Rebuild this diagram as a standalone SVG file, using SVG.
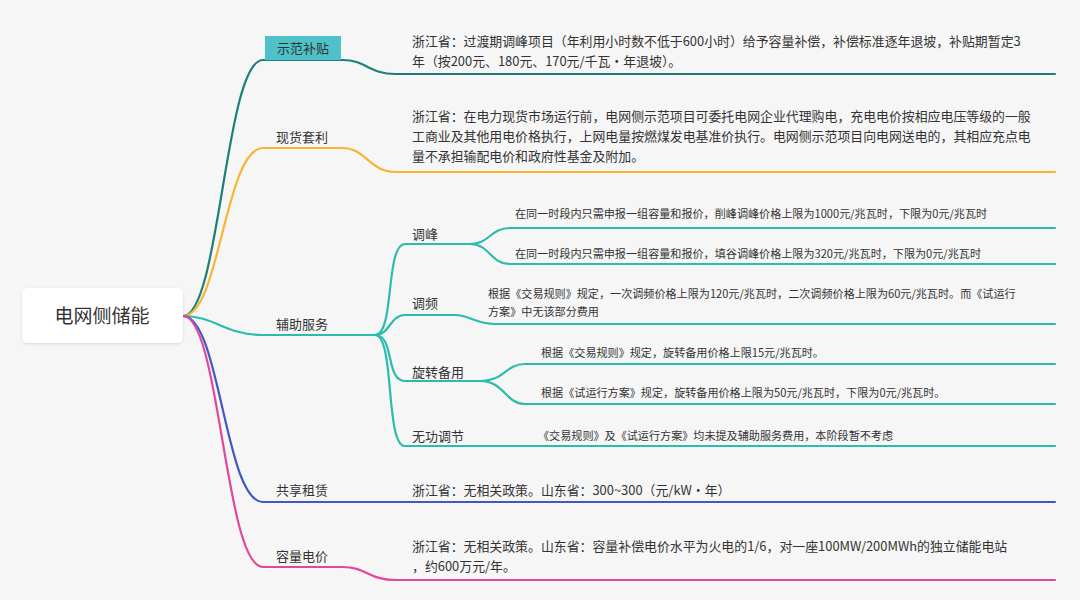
<svg xmlns="http://www.w3.org/2000/svg" width="1080" height="600" viewBox="0 0 1080 600">
<defs>
<filter id="sh" x="-10%" y="-20%" width="120%" height="140%"><feDropShadow dx="0" dy="1" stdDeviation="1.5" flood-color="#000" flood-opacity="0.12"/></filter>
</defs>
<style>
text{font-family:"Noto Sans CJK SC","Liberation Sans",sans-serif;fill:#333}
.l1{font-size:13px}
.d1{font-size:12.9px}
.d2{font-size:11.1px}
.c{fill:none;stroke-width:2.2;stroke-linecap:round}
.a{stroke:#1e7f7a}.b{stroke:#f7b531}.t{stroke:#2bbcad}.u{stroke:#4357c4}.p{stroke:#e3479b}
</style>
<rect width="1080" height="600" fill="#f6f6f6"/>
<g id="connectors">
<path class="c a" d="M183 316 C 220 316 225 60 263 60 H343 C 365 60 370 74 395 74 H1055"/>
<path class="c b" d="M183 316 C 220 316 225 148 263 148 H343 C 365 148 370 172 395 172 H1055"/>
<path class="c t" d="M183 316 C 215 316 225 335 263 335 H375"/>
<path class="c u" d="M183 316 C 220 316 225 502 263 502 H1055"/>
<path class="c p" d="M183 316 C 220 316 225 567 263 567 H343 C 365 567 370 580 395 580 H1055"/>
<path class="c t" d="M375 335 C 395 335 385 244 405 244 H470"/>
<path class="c t" d="M470 244 C 490 244 490 228 510 228 H1055"/>
<path class="c t" d="M470 244 C 490 244 490 264 510 264 H1055"/>
<path class="c t" d="M375 335 C 390 335 390 315 405 315 H455 C 470 315 475 324 495 324 H1055"/>
<path class="c t" d="M375 335 C 395 335 385 381 405 381 H480"/>
<path class="c t" d="M480 381 C 505 381 505 364 525 364 H1055"/>
<path class="c t" d="M480 381 C 505 381 505 404 525 404 H1055"/>
<path class="c t" d="M375 335 C 395 335 385 446 405 446 H1055"/>
</g>
<g id="root"><rect x="22" y="288" width="161" height="55" rx="6" fill="#fff" filter="url(#sh)"/><text x="102" y="323" text-anchor="middle" font-size="19">电网侧储能</text></g>
<g id="n1"><rect x="265" y="36" width="76" height="24" fill="#4fc1c9"/><text x="303" y="53" class="l1" text-anchor="middle">示范补贴</text></g>
<g id="n2"><text x="276" y="142" class="l1">现货套利</text></g>
<g id="n3"><text x="276" y="329" class="l1">辅助服务</text></g>
<g id="n4"><text x="276" y="495" class="l1">共享租赁</text></g>
<g id="n5"><text x="276" y="561" class="l1">容量电价</text></g>
<g id="n31"><text x="412" y="239" class="l1">调峰</text></g>
<g id="n32"><text x="412" y="308" class="l1">调频</text></g>
<g id="n33"><text x="412" y="377" class="l1">旋转备用</text></g>
<g id="n34"><text x="412" y="441" class="l1">无功调节</text></g>
<g id="d1"><text x="412" y="46" class="d1">浙江省：过渡期调峰项目（年利用小时数不低于600小时）给予容量补偿，补偿标准逐年退坡，补贴期暂定3</text><text x="412" y="66" class="d1">年（按200元、180元、170元/千瓦·年退坡）。</text></g>
<g id="d2"><text x="412" y="121" class="d1">浙江省：在电力现货市场运行前，电网侧示范项目可委托电网企业代理购电，充电电价按相应电压等级的一般</text><text x="412" y="141" class="d1">工商业及其他用电价格执行，上网电量按燃煤发电基准价执行。电网侧示范项目向电网送电的，其相应充点电</text><text x="412" y="161" class="d1">量不承担输配电价和政府性基金及附加。</text></g>
<g id="d31a"><text x="515" y="218" class="d2">在同一时段内只需申报一组容量和报价，削峰调峰价格上限为1000元/兆瓦时，下限为0元/兆瓦时</text></g>
<g id="d31b"><text x="515" y="258" class="d2">在同一时段内只需申报一组容量和报价，填谷调峰价格上限为320元/兆瓦时，下限为0元/兆瓦时</text></g>
<g id="d32"><text x="488" y="298" class="d2">根据《交易规则》规定，一次调频价格上限为120元/兆瓦时，二次调频价格上限为60元/兆瓦时。而《试运行</text><text x="488" y="316" class="d2">方案》中无该部分费用</text></g>
<g id="d33a"><text x="541" y="357" class="d2">根据《交易规则》规定，旋转备用价格上限15元/兆瓦时。</text></g>
<g id="d33b"><text x="541" y="397" class="d2">根据《试运行方案》规定，旋转备用价格上限为50元/兆瓦时，下限为0元/兆瓦时。</text></g>
<g id="d34"><text x="538" y="440" class="d2">《交易规则》及《试运行方案》均未提及辅助服务费用，本阶段暂不考虑</text></g>
<g id="d4"><text x="412" y="495" class="d1">浙江省：无相关政策。山东省：300~300（元/kW·年）</text></g>
<g id="d5"><text x="412" y="551" class="d1">浙江省：无相关政策。山东省：容量补偿电价水平为火电的1/6，对一座100MW/200MWh的独立储能电站</text><text x="412" y="571" class="d1">，约600万元/年。</text></g>
</svg>
